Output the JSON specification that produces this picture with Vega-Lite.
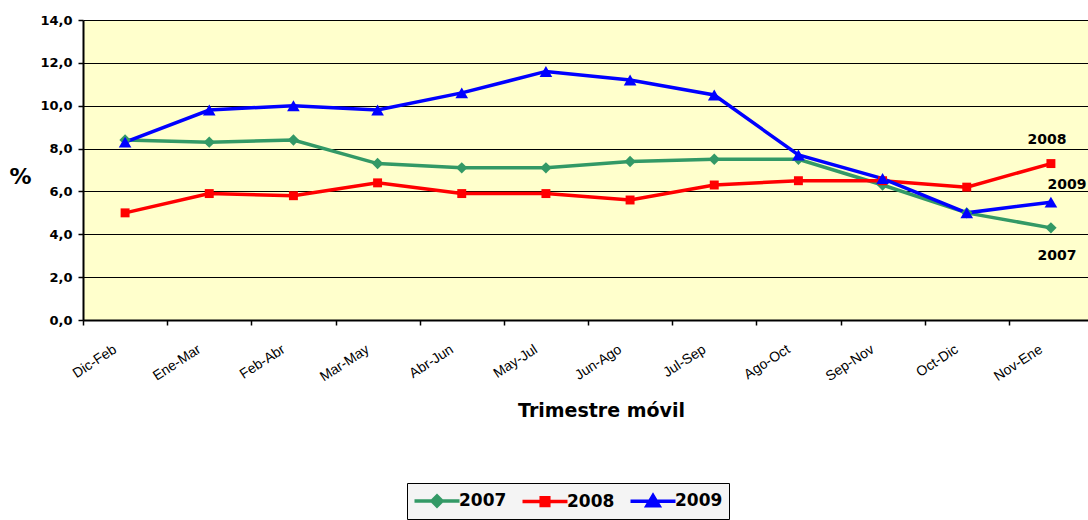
{
  "$schema": "https://vega.github.io/schema/vega-lite/v6.json",
  "autosize": {"type": "none"},
  "padding": {"left": 83, "top": 20, "right": 0, "bottom": 200},
  "width": 1005,
  "height": 300,
  "background": "white",
  "config": {
    "font": "DejaVu Sans",
    "view": {"fill": "#FFFFCC", "stroke": null}
  },
  "datasets": {
    "series": [
      {"t": "Dic-Feb", "year": "2007", "v": 8.4},
      {"t": "Ene-Mar", "year": "2007", "v": 8.3},
      {"t": "Feb-Abr", "year": "2007", "v": 8.4},
      {"t": "Mar-May", "year": "2007", "v": 7.3},
      {"t": "Abr-Jun", "year": "2007", "v": 7.1},
      {"t": "May-Jul", "year": "2007", "v": 7.1},
      {"t": "Jun-Ago", "year": "2007", "v": 7.4},
      {"t": "Jul-Sep", "year": "2007", "v": 7.5},
      {"t": "Ago-Oct", "year": "2007", "v": 7.5},
      {"t": "Sep-Nov", "year": "2007", "v": 6.3},
      {"t": "Oct-Dic", "year": "2007", "v": 5.0},
      {"t": "Nov-Ene", "year": "2007", "v": 4.3},
      {"t": "Dic-Feb", "year": "2008", "v": 5.0},
      {"t": "Ene-Mar", "year": "2008", "v": 5.9},
      {"t": "Feb-Abr", "year": "2008", "v": 5.8},
      {"t": "Mar-May", "year": "2008", "v": 6.4},
      {"t": "Abr-Jun", "year": "2008", "v": 5.9},
      {"t": "May-Jul", "year": "2008", "v": 5.9},
      {"t": "Jun-Ago", "year": "2008", "v": 5.6},
      {"t": "Jul-Sep", "year": "2008", "v": 6.3},
      {"t": "Ago-Oct", "year": "2008", "v": 6.5},
      {"t": "Sep-Nov", "year": "2008", "v": 6.5},
      {"t": "Oct-Dic", "year": "2008", "v": 6.2},
      {"t": "Nov-Ene", "year": "2008", "v": 7.3},
      {"t": "Dic-Feb", "year": "2009", "v": 8.3},
      {"t": "Ene-Mar", "year": "2009", "v": 9.8},
      {"t": "Feb-Abr", "year": "2009", "v": 10.0},
      {"t": "Mar-May", "year": "2009", "v": 9.8},
      {"t": "Abr-Jun", "year": "2009", "v": 10.6},
      {"t": "May-Jul", "year": "2009", "v": 11.6},
      {"t": "Jun-Ago", "year": "2009", "v": 11.2},
      {"t": "Jul-Sep", "year": "2009", "v": 10.5},
      {"t": "Ago-Oct", "year": "2009", "v": 7.7},
      {"t": "Sep-Nov", "year": "2009", "v": 6.6},
      {"t": "Oct-Dic", "year": "2009", "v": 5.0},
      {"t": "Nov-Ene", "year": "2009", "v": 5.5}
    ]
  },
  "data": {"name": "series"},
  "encoding": {
    "x": {
      "field": "t",
      "type": "nominal",
      "bandPosition": 0.5,
      "sort": ["Dic-Feb", "Ene-Mar", "Feb-Abr", "Mar-May", "Abr-Jun", "May-Jul", "Jun-Ago", "Jul-Sep", "Ago-Oct", "Sep-Nov", "Oct-Dic", "Nov-Ene"],
      "scale": {"type": "band", "range": [0, 1010], "paddingInner": 0, "paddingOuter": 0},
      "axis": {
        "title": "Trimestre móvil",
        "titleFontSize": 19,
        "titleFontWeight": "bold",
        "titleColor": "black",
        "titleX": 518,
        "titleY": 90,
        "titleBaseline": "middle",
        "titleAnchor": null,
        "titleAlign": "center",
        "domainColor": "black",
        "domainWidth": 2,
        "tickColor": "black",
        "tickWidth": 1.5,
        "tickSize": 5,
        "tickBand": "extent",
        "labelAngle": -33,
        "labelAlign": "right",
        "labelBaseline": "top",
        "labelPadding": 17,
        "labelOffset": -14,
        "labelFont": "Liberation Sans",
        "labelFontSize": 14,
        "labelColor": "black",
        "grid": false
      }
    },
    "y": {
      "field": "v",
      "type": "quantitative",
      "scale": {"domain": [0, 14], "nice": false, "zero": true},
      "axis": {
        "values": [0, 2, 4, 6, 8, 10, 12, 14],
        "labelExpr": "replace(format(datum.value, '.1f'), '.', ',')",
        "labelFontSize": 13,
        "labelFontWeight": "bold",
        "labelColor": "black",
        "labelPadding": 6,
        "domainColor": "black",
        "domainWidth": 2,
        "tickColor": "black",
        "tickWidth": 1.5,
        "tickSize": 5,
        "grid": true,
        "gridColor": "black",
        "gridWidth": 1,
        "gridOpacity": 1,
        "title": "%",
        "titleAngle": 0,
        "titleFontSize": 22,
        "titleFontWeight": "bold",
        "titleColor": "black",
        "titleX": -63,
        "titleY": 156,
        "titleAlign": "center",
        "titleBaseline": "middle"
      }
    }
  },
  "layer": [
    {
      "mark": {"type": "line", "strokeWidth": 3.5},
      "encoding": {
        "color": {
          "field": "year",
          "type": "nominal",
          "scale": {"domain": ["2007", "2008", "2009"], "range": ["#339966", "#FF0000", "#0000FF"]},
          "legend": {
            "orient": "none",
            "legendX": 324,
            "legendY": 463,
            "direction": "horizontal",
            "title": null,
            "labelFontSize": 17,
            "labelFontWeight": "bold",
            "labelColor": "black",
            "labelOffset": 10,
            "symbolSize": 400,
            "symbolOffset": 12,
            "symbolStrokeWidth": 3.5,
            "columnPadding": 8,
            "padding": 6,
            "strokeColor": "black",
            "fillColor": "#F4F4F4",
            "encode": {
              "symbols": {
                "update": {
                  "shape": {"signal": "datum.value === '2007' ? 'M-2.25,0H2.25M0,-0.5L0.5,0L0,0.5L-0.5,0Z' : datum.value === '2008' ? 'M-2.25,0H2.25M-0.38,-0.38H0.38V0.38H-0.38Z' : 'M-2.25,0H2.25M0,-0.55L0.6,0.45H-0.6Z'"},
                  "fill": {"signal": "datum.value === '2007' ? '#339966' : datum.value === '2008' ? '#FF0000' : '#0000FF'"},
                  "stroke": {"signal": "datum.value === '2007' ? '#339966' : datum.value === '2008' ? '#FF0000' : '#0000FF'"},
                  "strokeWidth": {"value": 3.5},
                  "opacity": {"value": 1}
                }
              }
            }
          }
        }
      }
    },
    {
      "transform": [{"filter": "datum.year === '2007'"}],
      "mark": {"type": "point", "filled": true, "opacity": 1, "shape": "diamond", "size": 130},
      "encoding": {"color": {"field": "year", "type": "nominal", "legend": null}}
    },
    {
      "transform": [{"filter": "datum.year === '2008'"}],
      "mark": {"type": "point", "filled": true, "opacity": 1, "shape": "square", "size": 80},
      "encoding": {"color": {"field": "year", "type": "nominal", "legend": null}}
    },
    {
      "transform": [{"filter": "datum.year === '2009'"}],
      "mark": {"type": "point", "filled": true, "opacity": 1, "shape": "triangle-up", "size": 160},
      "encoding": {"color": {"field": "year", "type": "nominal", "legend": null}}
    },
    {
      "data": {"values": [{"t": "Nov-Ene", "v": 8.42, "lbl": "2008"}]},
      "mark": {"type": "text", "fontSize": 14, "fontWeight": "bold", "color": "black", "dx": -4, "align": "center", "baseline": "middle"},
      "encoding": {"text": {"field": "lbl"}}
    },
    {
      "data": {"values": [{"t": "Nov-Ene", "v": 6.28, "lbl": "2009"}]},
      "mark": {"type": "text", "fontSize": 14, "fontWeight": "bold", "color": "black", "dx": 16, "align": "center", "baseline": "middle"},
      "encoding": {"text": {"field": "lbl"}}
    },
    {
      "data": {"values": [{"t": "Nov-Ene", "v": 2.98, "lbl": "2007"}]},
      "mark": {"type": "text", "fontSize": 14, "fontWeight": "bold", "color": "black", "dx": 6, "align": "center", "baseline": "middle"},
      "encoding": {"text": {"field": "lbl"}}
    }
  ]
}
